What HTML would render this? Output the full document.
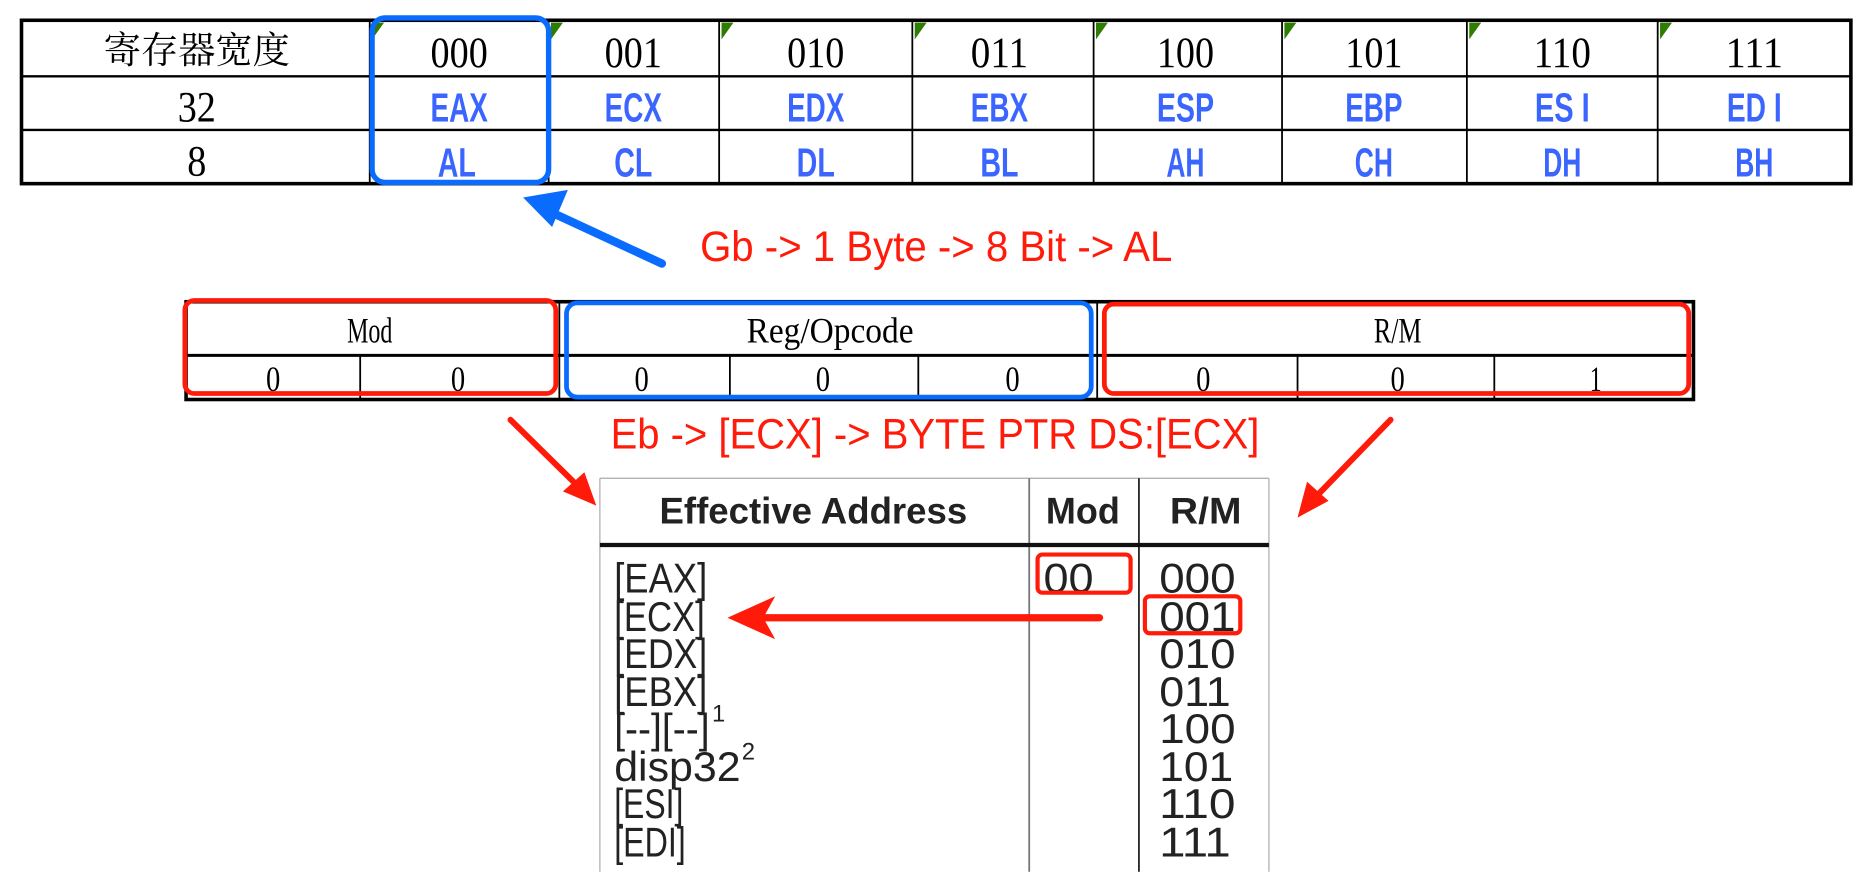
<!DOCTYPE html>
<html><head><meta charset="utf-8"><style>
html,body{margin:0;padding:0;background:#fff;}
svg{display:block}
.ser{font-family:"Liberation Serif","Noto Serif CJK SC",serif;}
.san{font-family:"Liberation Sans","Noto Sans CJK SC",sans-serif;}
</style></head><body>
<svg width="1870" height="872" viewBox="0 0 1568 731.2" xmlns="http://www.w3.org/2000/svg">
<rect width="1568" height="732" fill="#fff"/>
<g stroke="#000" fill="none">
<rect x="18" y="17" width="1534" height="137" stroke-width="3"/>
<line x1="18" y1="64" x2="1552" y2="64" stroke-width="2"/>
<line x1="18" y1="109" x2="1552" y2="109" stroke-width="2"/>
<g stroke-width="1.5">
<line x1="310" y1="17" x2="310" y2="154"/><line x1="460" y1="17" x2="460" y2="154"/>
<line x1="603" y1="17" x2="603" y2="154"/><line x1="765" y1="17" x2="765" y2="154"/>
<line x1="917" y1="17" x2="917" y2="154"/><line x1="1075" y1="17" x2="1075" y2="154"/>
<line x1="1230" y1="17" x2="1230" y2="154"/><line x1="1390" y1="17" x2="1390" y2="154"/>
</g></g>
<g fill="#2e7d00">
<polygon points="312,19 322,19 312,33"/><polygon points="462,19 472,19 462,33"/>
<polygon points="605,19 615,19 605,33"/><polygon points="767,19 777,19 767,33"/>
<polygon points="919,19 929,19 919,33"/><polygon points="1077,19 1087,19 1077,33"/>
<polygon points="1232,19 1242,19 1232,33"/><polygon points="1392,19 1402,19 1392,33"/>
</g>
<g class="ser" font-size="36" text-anchor="middle" fill="#000">
<text x="165" y="53" font-size="31" textLength="156" lengthAdjust="spacingAndGlyphs">寄存器宽度</text>
<text x="385" y="56" textLength="48" lengthAdjust="spacingAndGlyphs">000</text>
<text x="531" y="56" textLength="48" lengthAdjust="spacingAndGlyphs">001</text>
<text x="684" y="56" textLength="48" lengthAdjust="spacingAndGlyphs">010</text>
<text x="838" y="56" textLength="48" lengthAdjust="spacingAndGlyphs">011</text>
<text x="994" y="56" textLength="48" lengthAdjust="spacingAndGlyphs">100</text>
<text x="1152" y="56" textLength="48" lengthAdjust="spacingAndGlyphs">101</text>
<text x="1310" y="56" textLength="48" lengthAdjust="spacingAndGlyphs">110</text>
<text x="1471" y="56" textLength="48" lengthAdjust="spacingAndGlyphs">111</text>
<text x="165" y="102" textLength="32" lengthAdjust="spacingAndGlyphs">32</text>
<text x="165" y="147" textLength="16" lengthAdjust="spacingAndGlyphs">8</text>
</g>
<g class="san" font-weight="bold" font-size="34" text-anchor="middle" fill="#3a66ff">
<text x="385" y="102" textLength="48" lengthAdjust="spacingAndGlyphs">EAX</text>
<text x="531" y="102" textLength="48" lengthAdjust="spacingAndGlyphs">ECX</text>
<text x="684" y="102" textLength="48" lengthAdjust="spacingAndGlyphs">EDX</text>
<text x="838" y="102" textLength="48" lengthAdjust="spacingAndGlyphs">EBX</text>
<text x="994" y="102" textLength="48" lengthAdjust="spacingAndGlyphs">ESP</text>
<text x="1152" y="102" textLength="48" lengthAdjust="spacingAndGlyphs">EBP</text>
<text x="1310" y="102" textLength="46" lengthAdjust="spacingAndGlyphs">ES I</text>
<text x="1471" y="102" textLength="46" lengthAdjust="spacingAndGlyphs">ED I</text>
<text x="383" y="148" textLength="32" lengthAdjust="spacingAndGlyphs">AL</text>
<text x="531" y="148" textLength="32" lengthAdjust="spacingAndGlyphs">CL</text>
<text x="684" y="148" textLength="32" lengthAdjust="spacingAndGlyphs">DL</text>
<text x="838" y="148" textLength="32" lengthAdjust="spacingAndGlyphs">BL</text>
<text x="994" y="148" textLength="32" lengthAdjust="spacingAndGlyphs">AH</text>
<text x="1152" y="148" textLength="32" lengthAdjust="spacingAndGlyphs">CH</text>
<text x="1310" y="148" textLength="32" lengthAdjust="spacingAndGlyphs">DH</text>
<text x="1471" y="148" textLength="32" lengthAdjust="spacingAndGlyphs">BH</text>
</g>
<rect x="312" y="15" width="148" height="138" rx="11" fill="none" stroke="#0a6cff" stroke-width="4.5"/>
<line x1="555" y1="221" x2="460" y2="177" stroke="#0a6cff" stroke-width="7" stroke-linecap="round"/>
<polygon points="438,167 475,158 464,190" fill="#0a6cff" transform="rotate(4 458 175)"/>
<text class="san" x="587" y="219" font-size="36" fill="#ff1a0a" textLength="396" lengthAdjust="spacingAndGlyphs">Gb -&gt; 1 Byte -&gt; 8 Bit -&gt; AL</text>
<g stroke="#000" fill="none">
<rect x="156" y="253" width="1264" height="82" stroke-width="3"/>
<line x1="156" y1="298" x2="1420" y2="298" stroke-width="2.5"/>
<g stroke-width="1.5">
<line x1="469" y1="253" x2="469" y2="335"/><line x1="920" y1="253" x2="920" y2="335"/>
<line x1="302" y1="298" x2="302" y2="335"/><line x1="612" y1="298" x2="612" y2="335"/>
<line x1="770" y1="298" x2="770" y2="335"/><line x1="1088" y1="298" x2="1088" y2="335"/>
<line x1="1253" y1="298" x2="1253" y2="335"/>
</g></g>
<g class="ser" font-size="30" text-anchor="middle" fill="#000">
<text x="310" y="287" textLength="38" lengthAdjust="spacingAndGlyphs">Mod</text>
<text x="696" y="287" textLength="140" lengthAdjust="spacingAndGlyphs">Reg/Opcode</text>
<text x="1172" y="287" textLength="40" lengthAdjust="spacingAndGlyphs">R/M</text>
<text x="229" y="328" textLength="12" lengthAdjust="spacingAndGlyphs">0</text>
<text x="384" y="328" textLength="12" lengthAdjust="spacingAndGlyphs">0</text>
<text x="538" y="328" textLength="12" lengthAdjust="spacingAndGlyphs">0</text>
<text x="690" y="328" textLength="12" lengthAdjust="spacingAndGlyphs">0</text>
<text x="849" y="328" textLength="12" lengthAdjust="spacingAndGlyphs">0</text>
<text x="1009" y="328" textLength="12" lengthAdjust="spacingAndGlyphs">0</text>
<text x="1172" y="328" textLength="12" lengthAdjust="spacingAndGlyphs">0</text>
<text x="1338" y="328" textLength="10" lengthAdjust="spacingAndGlyphs">1</text>
</g>
<rect x="155" y="252" width="311" height="78" rx="8" fill="none" stroke="#ff1a0a" stroke-width="4"/>
<rect x="475" y="254" width="440" height="79" rx="9" fill="none" stroke="#0a6cff" stroke-width="4"/>
<rect x="926" y="255" width="490" height="75" rx="8" fill="none" stroke="#ff1a0a" stroke-width="4"/>
<text class="san" x="512" y="376" font-size="36" fill="#ff1a0a" textLength="544" lengthAdjust="spacingAndGlyphs">Eb -&gt; [ECX] -&gt; BYTE PTR DS:[ECX]</text>
<line x1="428" y1="352" x2="485" y2="408" stroke="#ff1a0a" stroke-width="5" stroke-linecap="round"/>
<polygon points="500,424 472,412 490,396" fill="#ff1a0a"/>
<line x1="1166" y1="352" x2="1102" y2="418" stroke="#ff1a0a" stroke-width="5" stroke-linecap="round"/>
<polygon points="1088,434 1096,404 1114,420" fill="#ff1a0a"/>
<g stroke-width="1">
<line x1="503" y1="401" x2="503" y2="731" stroke="#aaa"/>
<line x1="1064" y1="401" x2="1064" y2="731" stroke="#aaa"/>
<line x1="503" y1="401" x2="1064" y2="401" stroke="#aaa"/>
<line x1="863" y1="401" x2="863" y2="731" stroke="#777" stroke-width="1.5"/>
<line x1="955" y1="401" x2="955" y2="731" stroke="#222" stroke-width="1.5"/>
<line x1="503" y1="457" x2="1064" y2="457" stroke="#111" stroke-width="3.5"/>
</g>
<g class="san" font-weight="bold" font-size="31" fill="#222">
<text x="553" y="439" textLength="258" lengthAdjust="spacingAndGlyphs">Effective Address</text>
<text x="877" y="439" textLength="62" lengthAdjust="spacingAndGlyphs">Mod</text>
<text x="981" y="439" textLength="60" lengthAdjust="spacingAndGlyphs">R/M</text>
</g>
<g class="san" font-size="35" fill="#222">
<text x="515" y="497" textLength="78" lengthAdjust="spacingAndGlyphs">[EAX]</text>
<text x="515" y="529" textLength="76" lengthAdjust="spacingAndGlyphs">[ECX]</text>
<text x="515" y="560" textLength="78" lengthAdjust="spacingAndGlyphs">[EDX]</text>
<text x="515" y="592" textLength="78" lengthAdjust="spacingAndGlyphs">[EBX]</text>
<text x="515" y="623" textLength="80" lengthAdjust="spacingAndGlyphs">[--][--]</text>
<text x="597" y="605" font-size="20">1</text>
<text x="515" y="655" textLength="106" lengthAdjust="spacingAndGlyphs">disp32</text>
<text x="622" y="637" font-size="20">2</text>
<text x="515" y="686" textLength="58" lengthAdjust="spacingAndGlyphs">[ESI]</text>
<text x="515" y="718" textLength="60" lengthAdjust="spacingAndGlyphs">[EDI]</text>
<text x="875" y="497" textLength="42" lengthAdjust="spacingAndGlyphs">00</text>
<text x="972" y="497" textLength="64" lengthAdjust="spacingAndGlyphs">000</text>
<text x="972" y="529" textLength="64" lengthAdjust="spacingAndGlyphs">001</text>
<text x="972" y="560" textLength="64" lengthAdjust="spacingAndGlyphs">010</text>
<text x="972" y="592" textLength="60" lengthAdjust="spacingAndGlyphs">011</text>
<text x="972" y="623" textLength="64" lengthAdjust="spacingAndGlyphs">100</text>
<text x="972" y="655" textLength="62" lengthAdjust="spacingAndGlyphs">101</text>
<text x="972" y="686" textLength="64" lengthAdjust="spacingAndGlyphs">110</text>
<text x="972" y="718" textLength="60" lengthAdjust="spacingAndGlyphs">111</text>
</g>
<rect x="870" y="465" width="78" height="32" rx="4" fill="none" stroke="#ff1a0a" stroke-width="3.5"/>
<rect x="960" y="500" width="80" height="31" rx="4" fill="none" stroke="#ff1a0a" stroke-width="3.5"/>
<line x1="922" y1="518" x2="640" y2="518" stroke="#ff1a0a" stroke-width="6" stroke-linecap="round"/>
<polygon points="610,518 650,500 640,518 650,536" fill="#ff1a0a"/>
</svg>
</body></html>
